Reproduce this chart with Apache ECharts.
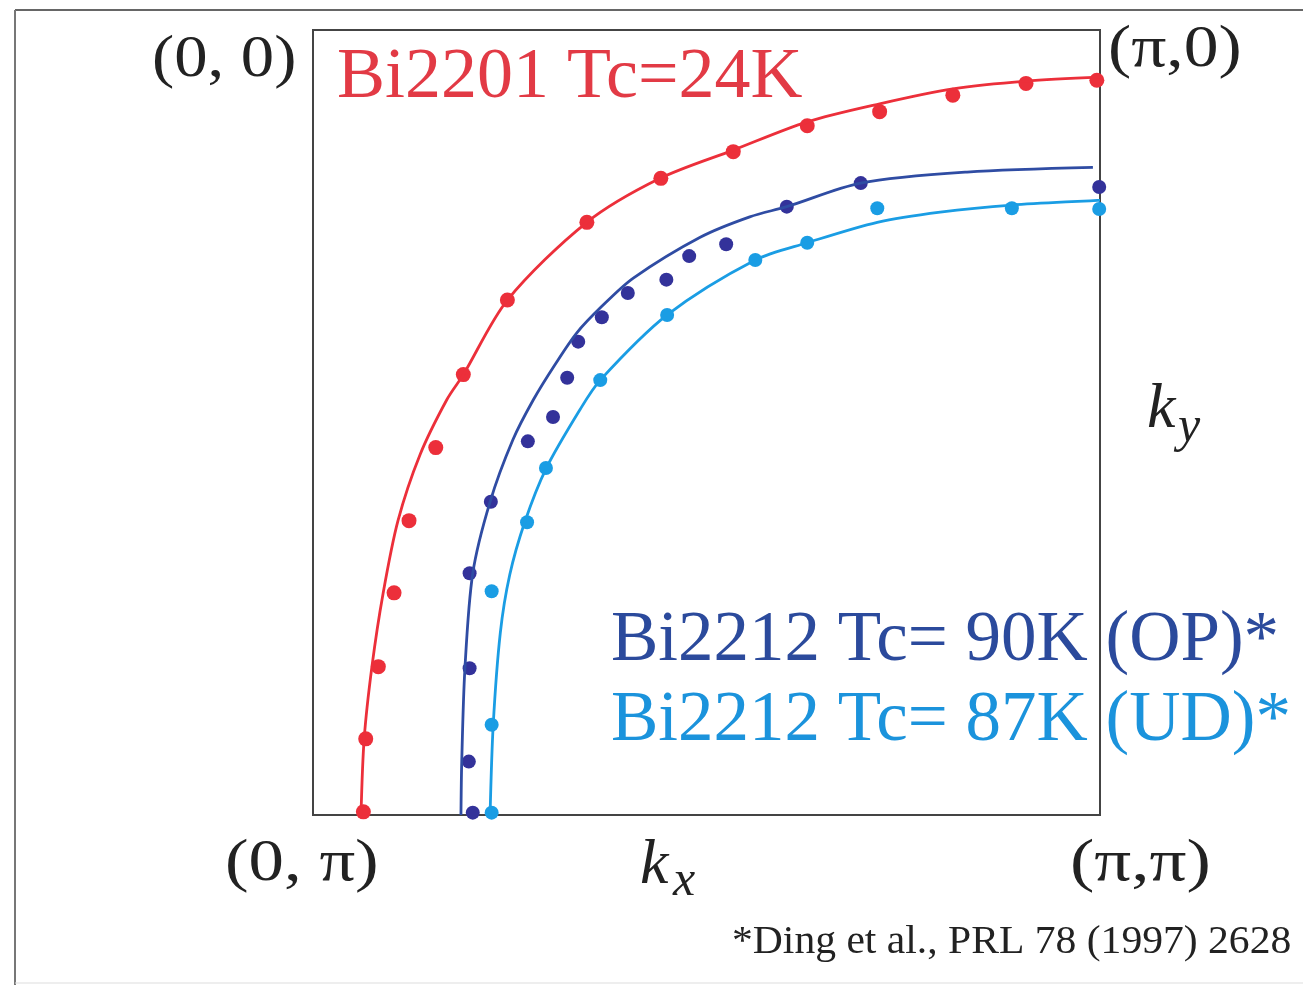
<!DOCTYPE html>
<html>
<head>
<meta charset="utf-8">
<script src="https://cdn.jsdelivr.net/npm/echarts@6/dist/echarts.min.js"></script>
<style>
html,body{margin:0;padding:0;background:#fff;}
#chart{width:1303px;height:985px;}
</style>
</head>
<body>
<div id="chart"></div>
<script>
// Coordinates in units of pi: x = kx/pi (0..1, left->right), y = ky/pi (0 at top, 1 at bottom)
const bi2201Points = [
  [0.064,0.996],[0.067,0.903],[0.083,0.811],[0.103,0.717],[0.122,0.625],[0.156,0.532],
  [0.191,0.439],[0.247,0.344],[0.348,0.245],[0.442,0.189],[0.534,0.155],[0.628,0.122],
  [0.720,0.104],[0.813,0.083],[0.906,0.068],[0.996,0.064]
];
const bi2201Fit = [
  [0.061,1.000],[0.065,0.903],[0.075,0.810],[0.089,0.718],[0.108,0.625],[0.136,0.541],
  [0.170,0.471],[0.191,0.439],[0.247,0.344],[0.348,0.245],[0.441,0.189],[0.534,0.153],
  [0.628,0.117],[0.720,0.094],[0.813,0.075],[0.906,0.065],[1.000,0.060]
];
const bi2212OPPoints = [
  [0.203,0.997],[0.198,0.932],[0.199,0.813],[0.199,0.692],[0.226,0.601],[0.273,0.524],
  [0.305,0.493],[0.323,0.443],[0.337,0.397],[0.367,0.366],[0.400,0.335],[0.449,0.318],
  [0.478,0.288],[0.525,0.273],[0.602,0.225],[0.696,0.195],[0.999,0.200]
];
const bi2212OPFit = [
  [0.188,1.000],[0.189,0.932],[0.193,0.814],[0.203,0.692],[0.225,0.601],[0.254,0.522],
  [0.280,0.471],[0.307,0.427],[0.335,0.386],[0.367,0.352],[0.407,0.316],[0.492,0.264],
  [0.555,0.238],[0.602,0.225],[0.696,0.195],[0.831,0.181],[0.991,0.175]
];
const bi2212UDPoints = [
  [0.227,0.997],[0.227,0.885],[0.227,0.715],[0.272,0.627],[0.296,0.558],[0.365,0.446],
  [0.450,0.363],[0.562,0.293],[0.628,0.271],[0.717,0.227],[0.888,0.227],[0.999,0.228]
];
const bi2212UDFit = [
  [0.225,1.000],[0.229,0.885],[0.238,0.768],[0.250,0.694],[0.269,0.627],[0.296,0.559],
  [0.339,0.484],[0.365,0.446],[0.450,0.363],[0.562,0.293],[0.628,0.271],[0.717,0.245],
  [0.797,0.232],[0.888,0.223],[1.000,0.217]
];
const cornerLabels = ['(0, 0)', '(\u03c0,0)', '(0, \u03c0)', '(\u03c0,\u03c0)'];
const seriesLabels = ['Bi2201 Tc=24K', 'Bi2212 Tc= 90K (OP)*', 'Bi2212 Tc= 87K (UD)*'];
const refText = '*Ding et al., PRL 78 (1997) 2628';

const RED = '#ec2f3a', NAVY = '#33329a', NAVYLINE = '#2f4ca3', CYAN = '#1a9de4';
const SERIF = '"Liberation Serif", "Times New Roman", serif';

const chart = echarts.init(document.getElementById('chart'));

function txt(x, y, s, size, color, sx) {
  return {
    type: 'text', x: x, y: y, z: 100, scaleX: sx || 1,
    style: { text: s, font: size + 'px ' + SERIF, fill: color, textAlign: 'left', textVerticalAlign: 'middle' }
  };
}
function itxt(x, y, s, size) {
  return { type: 'text', x: x, y: y, z: 100,
    style: { text: s, font: 'italic ' + size + 'px ' + SERIF, fill: '#222', textAlign: 'left', textVerticalAlign: 'middle' } };
}

const option = {
  animation: false,
  backgroundColor: '#fff',
  grid: { left: 313, top: 30, width: 787, height: 785, show: true, borderColor: '#444', borderWidth: 2, backgroundColor: 'transparent' },
  xAxis: { type: 'value', min: 0, max: 1, show: false },
  yAxis: { type: 'value', min: 0, max: 1, inverse: true, show: false },
  series: [
    { type: 'line', data: bi2201Fit, smooth: 0.3, symbol: 'none', lineStyle: { color: RED, width: 2.8 }, clip: false },
    { type: 'line', data: bi2212OPFit, smooth: 0.3, symbol: 'none', lineStyle: { color: NAVYLINE, width: 2.8 }, clip: false },
    { type: 'line', data: bi2212UDFit, smooth: 0.3, symbol: 'none', lineStyle: { color: CYAN, width: 2.8 }, clip: false },
    { type: 'scatter', data: bi2201Points, symbolSize: 15, itemStyle: { color: RED, opacity: 1 }, clip: false },
    { type: 'scatter', data: bi2212OPPoints, symbolSize: 14, itemStyle: { color: NAVY, opacity: 1 }, clip: false },
    { type: 'scatter', data: bi2212UDPoints, symbolSize: 14, itemStyle: { color: CYAN, opacity: 1 }, clip: false }
  ],
  graphic: [
    // outer frame
    { type: 'line', shape: { x1: 15, y1: 10, x2: 1303, y2: 10 }, style: { stroke: '#666', lineWidth: 2 } },
    { type: 'line', shape: { x1: 15, y1: 10, x2: 15, y2: 985 }, style: { stroke: '#777', lineWidth: 2 } },
    { type: 'line', shape: { x1: 15, y1: 983, x2: 1303, y2: 983 }, style: { stroke: '#ddd', lineWidth: 1 } },
    txt(152, 60, cornerLabels[0], 59, '#222', 1.13),
    txt(1108, 50, cornerLabels[1], 59, '#222', 1.18),
    txt(225, 864, cornerLabels[2], 59, '#222', 1.2),
    txt(1070, 864, cornerLabels[3], 59, '#222', 1.24),
    txt(337, 78, seriesLabels[0], 72, '#e23a45'),
    txt(611, 641, seriesLabels[1], 71, '#2b4a9c'),
    txt(611, 721, seriesLabels[2], 71, '#1b93dc'),
    itxt(640, 866, 'k', 64),
    itxt(673, 882, 'x', 50),
    itxt(1147, 410, 'k', 64),
    itxt(1178, 428, 'y', 50),
    txt(732, 942, refText, 40, '#222', 1.04)
  ]
};
chart.setOption(option);
</script>
</body>
</html>
